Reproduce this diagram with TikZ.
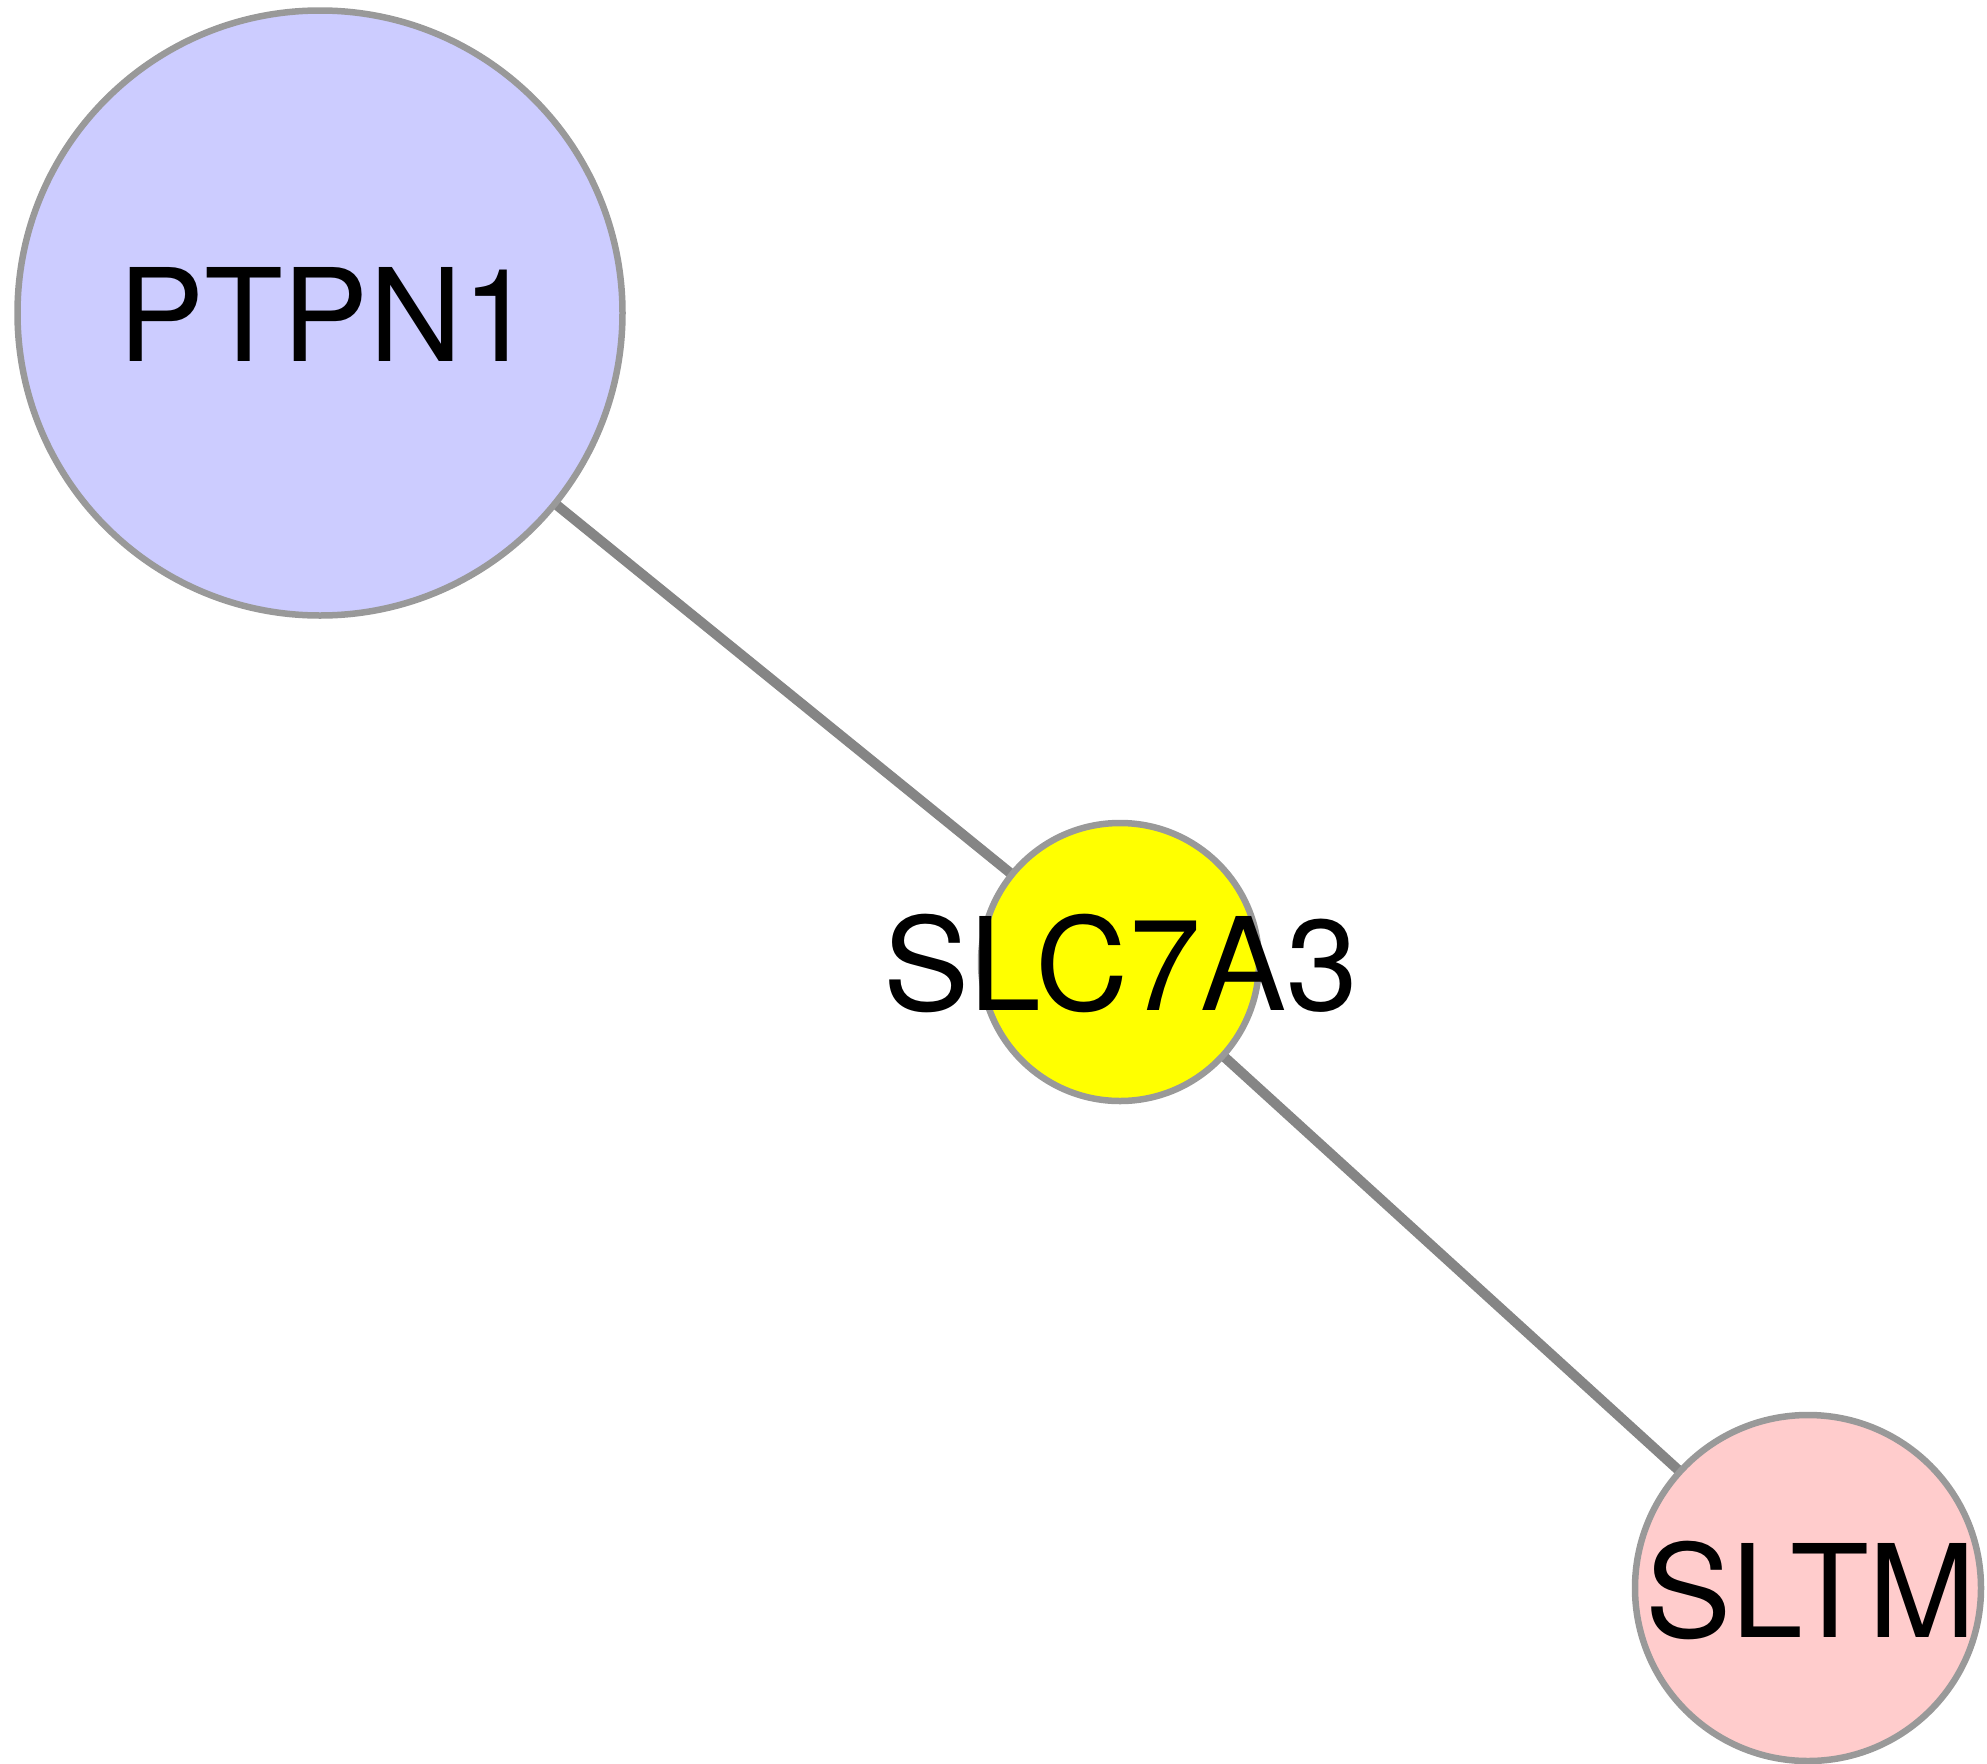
\documentclass[tikz,border=0pt]{standalone}
\usepackage{fontspec}
\setmainfont{TeX Gyre Heros}
\pgfdeclarelayer{bg}
\pgfsetlayers{bg,main}
\definecolor{edgegray}{HTML}{858585}
\definecolor{bordergray}{HTML}{999999}
\definecolor{ptpnfill}{HTML}{CCCCFF}
\definecolor{slcfill}{HTML}{FFFF00}
\definecolor{sltmfill}{HTML}{FFCCCC}
\tikzset{
  gene/.style={circle, draw=bordergray, line width=6.5pt, inner sep=0pt, outer sep=0pt},
  genelabel/.style={inner sep=0pt, font=\fontsize{129}{150}\selectfont, text=black},
  link/.style={draw=edgegray, line width=10pt, line cap=round}
}
\begin{document}
\begin{tikzpicture}[x=1pt,y=-1pt]
\useasboundingbox (0,0) rectangle (1987,1764);
\node[gene, fill=ptpnfill, minimum size=605pt] (ptpn1) at (320,313) {};
\node[gene, fill=slcfill, minimum size=278pt] (slc7a3) at (1120,962) {};
\node[gene, fill=sltmfill, minimum size=346pt] (sltm) at (1808,1588) {};
\begin{pgfonlayer}{bg}
\draw[link] (ptpn1) -- (slc7a3);
\draw[link] (slc7a3) -- (sltm);
\end{pgfonlayer}
\node[genelabel] (lptpn1) at (326,314) {PTPN1};
\node[genelabel] (lslc7a3) at (1121,963) {SLC7A3};
\node[genelabel] (lsltm) at (1811,1590) {SLTM};
\end{tikzpicture}
\end{document}
